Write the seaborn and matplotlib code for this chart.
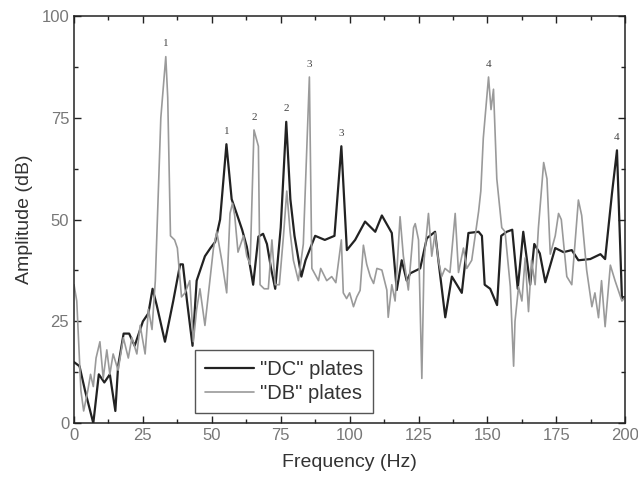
import numpy as np
import pandas as pd
import seaborn as sns
import matplotlib.pyplot as plt
from matplotlib.ticker import MultipleLocator

# "DC" plates spectrum (black)
dc_freq = [0, 2, 4, 7, 9, 11, 13, 15, 16, 18,
           20, 22, 23, 25, 27, 28.5, 30, 33, 36, 38.5,
           39.5, 41, 43, 44.5, 47.5, 49.5, 51.2, 53, 55.3, 57.2,
           59, 61, 62.7, 65, 66.9, 68.6, 70, 71.5, 73, 75,
           77, 78.5, 80, 82.5, 84, 87.5, 91, 94.5, 97, 99,
           102, 105.6, 109.3, 111.7, 115.3, 117.1, 118.9, 120.7, 122, 125.6,
           128, 131, 132.2, 134.7, 137.1, 140.7, 143.1, 146.8, 148, 149,
           151, 153.5, 155, 157, 159, 161, 163, 165.5, 167, 169,
           171, 174.6, 177.6, 180.6, 183, 187.3, 191, 192.7, 195.2, 197,
           198.8, 199.6]
dc_amp = [15, 14, 8, 0, 12, 10, 12, 3, 14, 22,
          22, 19, 21, 25, 27, 33, 29, 20, 30, 39,
          39, 30, 19, 35, 41, 43, 44.5, 50, 68.5, 55,
          51.5, 47.5, 43.3, 34, 45.8, 46.5, 44, 38, 33, 48,
          74, 55, 46, 36, 40, 46, 45, 46, 68, 42.5,
          45, 49.5, 47, 51, 46.7, 32.7, 40, 35, 36.8, 38,
          45.4, 47, 40, 26, 36, 32, 46.7, 47, 46, 34,
          33, 29, 46, 47, 47.5, 33, 47, 34, 44, 41.7,
          34.6, 43, 42, 42.5, 40, 40.3, 41.5, 40.3, 56.5, 67,
          30.7, 31]

# "DB" plates spectrum (grey)
db_freq = [0, 1, 2.5, 3.5, 5, 6, 7, 8, 9.4, 10.6,
           11.9, 13, 14.2, 16, 17.9, 19.7, 21, 22.8, 24, 25.8,
           27, 28.3, 29.5, 30.5, 31.5, 33.3, 34, 35, 36.5, 37.5,
           39, 40.3, 42, 43.3, 44.5, 45.7, 47.5, 50.6, 51.8, 53.6,
           55.4, 56.6, 57.5, 58.3, 59.5, 61.5, 62.7, 63.9, 65.3, 66.9,
           67.5, 69, 70.5, 71.8, 73, 74.5, 76, 77.2, 78.4, 79.6,
           81.4, 83.2, 85.4, 86.3, 88.7, 89.5, 91.7, 93.5, 95, 97,
           97.7, 98.9, 100, 101.4, 102.6, 103.8, 105, 106.2, 107.5, 108.7,
           109.9, 111.7, 113.5, 114, 115.3, 116.5, 118.3, 119.5, 121.3, 123.2,
           123.8, 125, 126.2, 127, 128.6, 129.8, 131, 132.2, 133.4, 134.6,
           136.4, 138.3, 139.5, 141.3, 142.5, 144.3, 146.8, 147.6, 148.5, 150.4,
           151.3, 152.2, 153.4, 155.2, 156.4, 158.3, 159.5, 160, 161.3, 162.5,
           163.7, 164.9, 166, 167.3, 168.5, 170.4, 171.6, 172.8, 174.6, 175.8,
           176.8, 178.8, 180.6, 183, 184.2, 186, 187.9, 189, 190.3, 191.4,
           192.7, 194.6, 196.3, 198.8, 200]
db_amp = [34, 30, 8, 3, 8, 12, 9, 16, 20, 11,
          18, 12, 17, 13, 21, 16, 21, 17, 24, 17,
          28, 23, 35, 55, 75, 90, 80, 46, 45, 43,
          31, 32, 35, 20, 28, 33, 24, 43, 47, 40,
          32, 51.5, 54, 51, 42, 46, 41, 39, 72, 68,
          34, 33, 33, 45, 34, 34, 46, 57, 47, 40,
          35, 44, 85, 38, 35, 38, 35, 36, 34.5, 45,
          32, 30.6, 32, 28.6, 31, 32.6, 43.7, 39, 36, 34.3,
          38, 37.6, 32.7, 26, 34, 30, 50.7, 41, 32.7, 48,
          49, 45, 11, 40, 51.5, 41, 46.7, 40, 36, 38,
          37, 51.5, 37, 43, 38, 40, 52, 57, 70, 85,
          77, 82, 60, 48, 47, 33.5, 14, 25, 33.5, 30,
          40.6, 27.4, 40, 34, 48, 64, 60, 41.5, 46, 51.5,
          50, 36, 34, 54.8, 51, 37.6, 28.6, 32, 25.9, 35,
          23.7, 38.8, 35, 30, 31]

# mode numbers written over the peaks
dc_peak_freq = [55.3, 77, 97, 197]
dc_peak_text = ['1', '2', '3', '4']
db_peak_freq = [33.3, 65.3, 85.4, 150.4]
db_peak_text = ['1', '2', '3', '4']

dc = pd.DataFrame({'freq': dc_freq, 'amp': dc_amp})
db = pd.DataFrame({'freq': db_freq, 'amp': db_amp})

sns.set_style('ticks')
plt.rcParams['font.family'] = ['Liberation Sans', 'DejaVu Sans']

fig = plt.figure(figsize=(6.38, 4.82), dpi=100)
ax = fig.add_axes([0.116, 0.122, 0.864, 0.845])

sns.lineplot(data=dc, x='freq', y='amp', ax=ax, color='#222222',
             linewidth=1.6, estimator=None, sort=False, label='"DC" plates')
sns.lineplot(data=db, x='freq', y='amp', ax=ax, color='#9a9a9a',
             linewidth=1.2, estimator=None, sort=False, label='"DB" plates')

for f, t in zip(dc_peak_freq, dc_peak_text):
    a = dc.loc[dc['freq'] == f, 'amp'].iloc[0]
    ax.annotate(t, (f, a), xytext=(0, 6), textcoords='offset points',
                ha='center', va='bottom', fontsize=8, color='#444444',
                family='Liberation Serif')
for f, t in zip(db_peak_freq, db_peak_text):
    a = db.loc[db['freq'] == f, 'amp'].iloc[0]
    ax.annotate(t, (f, a), xytext=(0, 6), textcoords='offset points',
                ha='center', va='bottom', fontsize=8, color='#444444',
                family='Liberation Serif')

ax.set_xlim(0, 200)
ax.set_ylim(0, 100)
ax.xaxis.set_major_locator(MultipleLocator(25))
ax.xaxis.set_minor_locator(MultipleLocator(12.5))
ax.yaxis.set_major_locator(MultipleLocator(25))
ax.yaxis.set_minor_locator(MultipleLocator(12.5))
ax.tick_params(which='both', direction='in', top=True, right=True,
               colors='#222222', labelcolor='#777777', labelsize=12, width=1)
ax.tick_params(which='major', length=5)
ax.tick_params(which='minor', length=3)
for s in ax.spines.values():
    s.set_color('#222222')
    s.set_linewidth(1.1)

ax.set_xlabel('Frequency (Hz)', fontsize=14, color='#333333', labelpad=8)
ax.set_ylabel('Amplitude (dB)', fontsize=14, color='#333333', labelpad=6)

leg = ax.legend(loc='lower left', bbox_to_anchor=(0.22, 0.025), fontsize=14.5,
                frameon=True, fancybox=False, edgecolor='#555555',
                framealpha=1, handlelength=2.4, borderpad=0.5,
                borderaxespad=0, labelspacing=0.25, handletextpad=0.3)
leg.get_frame().set_linewidth(1.0)
for t in leg.get_texts():
    t.set_color('#333333')

fig.savefig('out.png', dpi=100)
